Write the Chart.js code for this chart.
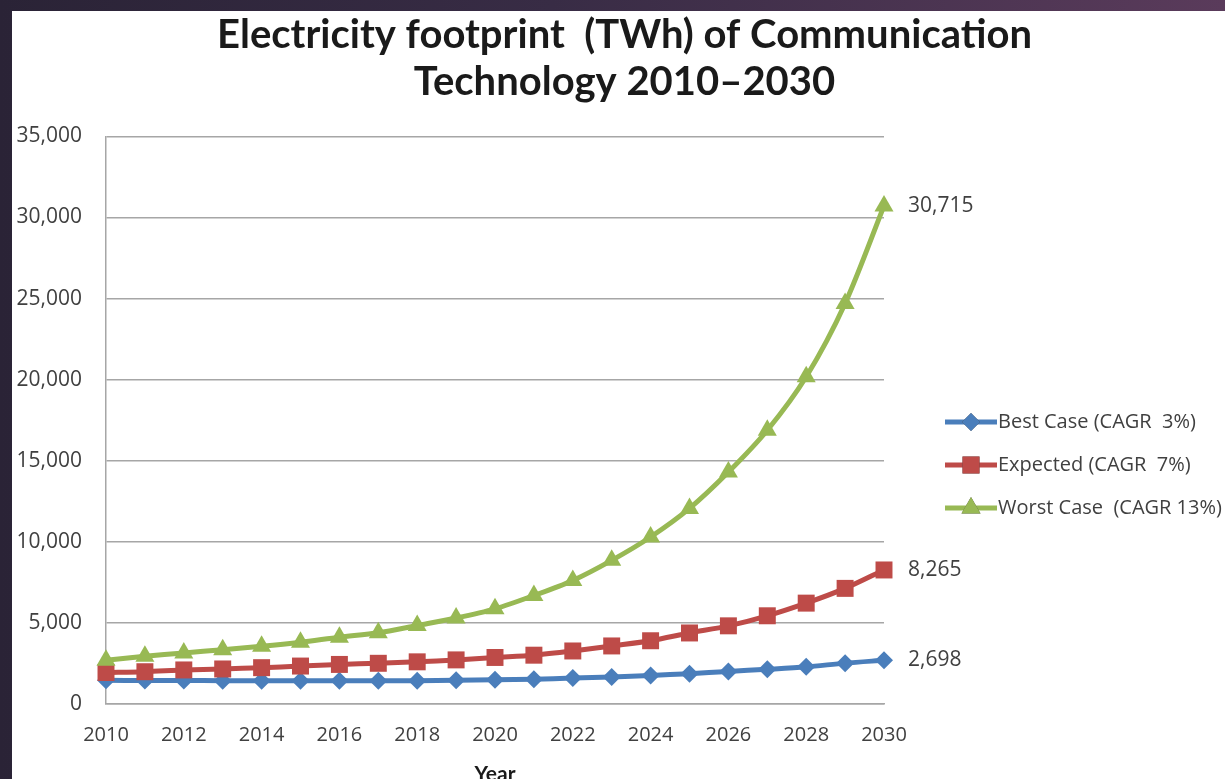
<!DOCTYPE html>
<html>
<head>
<meta charset="utf-8">
<script src="https://cdn.jsdelivr.net/npm/chart.js"></script>
<style>
  html, body { margin: 0; padding: 0; overflow: hidden; }
  body {
    width: 1225px; height: 779px;
    background: linear-gradient(90deg, #2a2336 0%, #382c45 45%, #5a3b5b 100%);
  }
  #wrap {
    position: absolute; left: 12px; top: 11px;
    width: 1225px; height: 790px; background: #fff;
  }
</style>
</head>
<body>
<div id="wrap"><canvas id="myChart"></canvas></div>
<script>
  const years = ["2010", "2011", "2012", "2013", "2014", "2015", "2016", "2017", "2018", "2019", "2020",
    "2021", "2022", "2023", "2024", "2025", "2026", "2027", "2028", "2029", "2030"];

  const bestCase = [1460, 1450, 1450, 1440, 1440, 1440, 1430, 1430, 1440, 1460, 1500,
    1530, 1600, 1670, 1760, 1870, 2010, 2140, 2290, 2520, 2698];
  const expected = [1940, 1990, 2100, 2160, 2240, 2340, 2440, 2510, 2600, 2720, 2870,
    3010, 3270, 3580, 3900, 4380, 4820, 5440, 6220, 7130, 8265];
  const worstCase = [2700, 2950, 3150, 3350, 3560, 3810, 4120, 4390, 4840, 5300, 5870,
    6690, 7620, 8860, 10300, 12060, 14300, 16880, 20180, 24700, 30715];

  const seriesNames = ["Best Case (CAGR  3%)", "Expected (CAGR  7%)", "Worst Case  (CAGR 13%)"];
  const yTicks = [0, 5000, 10000, 15000, 20000, 25000, 30000, 35000];

  const blue = "#4a7ebb";
  const red = "#be4b48";
  const green = "#98b954";
  const textColor = "#404040";
  const gridColor = "#a6a6a6";
  const numFont = "'Open Sans'";

  Chart.defaults.font.family = "Lato, 'Open Sans', sans-serif";

  const fmt = (v) => Number(v).toLocaleString("en-US");

  // end labels + legend (line with marker through it, like Excel)
  const extras = {
    id: "extras",
    afterDraw(chart) {
      const ctx = chart.ctx;
      ctx.save();
      ctx.font = "21px " + numFont;
      ctx.fillStyle = textColor;
      ctx.textBaseline = "middle";
      ctx.textAlign = "left";
      chart.data.datasets.forEach((ds, i) => {
        const meta = chart.getDatasetMeta(i);
        const last = meta.data[meta.data.length - 1];
        ctx.fillText(fmt(ds.data[ds.data.length - 1]), last.x + 24, last.y);
      });

      ctx.font = "20px " + numFont;
      const lx = 933, ly = 411, gap = 43;
      chart.data.datasets.forEach((ds, i) => {
        const y = ly + i * gap;
        ctx.strokeStyle = ds.borderColor;
        ctx.lineWidth = 5;
        ctx.beginPath();
        ctx.moveTo(lx, y);
        ctx.lineTo(lx + 52, y);
        ctx.stroke();
        Chart.helpers.drawPoint(ctx, {
          pointStyle: ds.pointStyle,
          radius: ds.pointRadius,
          borderWidth: 0,
        }, lx + 26, y);
        ctx.fillStyle = ds.backgroundColor;
        ctx.fill();
        ctx.fillStyle = textColor;
        ctx.fillText(ds.label, lx + 53, y);
      });
      ctx.restore();
    },
  };

  new Chart(document.getElementById("myChart"), {
    type: "line",
    data: {
      labels: years,
      datasets: [
        {
          label: seriesNames[0],
          data: bestCase,
          borderColor: blue,
          backgroundColor: blue,
          pointStyle: "rectRot",
          pointRadius: 9,
          order: 3,
        },
        {
          label: seriesNames[1],
          data: expected,
          borderColor: red,
          backgroundColor: red,
          pointStyle: "rect",
          pointRadius: 12,
          order: 2,
        },
        {
          label: seriesNames[2],
          data: worstCase,
          borderColor: green,
          backgroundColor: green,
          pointStyle: "triangle",
          pointRadius: 11,
          order: 1,
        },
      ],
    },
    options: {
      responsive: true,
      maintainAspectRatio: false,
      animation: false,
      datasets: {
        line: {
          borderWidth: 5,
          tension: 0.3,
          pointBorderWidth: 0,
          pointHoverRadius: 12,
          clip: false,
        },
      },
      layout: {
        padding: { left: 0, right: 0, top: 0, bottom: 0 },
      },
      plugins: {
        legend: { display: false },
        tooltip: { enabled: false },
        title: {
          display: true,
          text: ["Electricity footprint  (TWh) of Communication", "Technology 2010\u20132030"],
          color: "#1a1a1a",
          font: { size: 40, weight: "bold", lineHeight: 1.18 },
          padding: { top: 0, bottom: 31 },
        },
      },
      scales: {
        x: {
          type: "category",
          grid: { display: false, drawTicks: false },
          border: { display: true, color: gridColor, width: 1.5 },
          ticks: {
            autoSkip: false,
            maxRotation: 0,
            padding: 19,
            color: textColor,
            font: { family: numFont, size: 20 },
            callback: function (v, i) {
              return i % 2 === 0 ? this.getLabelForValue(v) : "";
            },
          },
          title: {
            display: true,
            text: "Year",
            color: "#1a1a1a",
            font: { size: 21, weight: "bold" },
            padding: { top: 0, bottom: 14 },
          },
          afterFit(scale) {
            scale.height = 97;
          },
        },
        y: {
          min: 0,
          max: 35000,
          grid: { color: gridColor, lineWidth: 1.5, drawTicks: false },
          border: { display: true, color: gridColor, width: 1.5 },
          ticks: {
            stepSize: 5000,
            padding: 24,
            color: textColor,
            font: { family: numFont, size: 21 },
            callback: (v) => (yTicks.includes(v) ? fmt(v) : ""),
          },
          afterFit(scale) {
            scale.width = 94;
          },
        },
        // empty right-hand scale: keeps the space where the legend and end labels sit
        side: {
          position: "right",
          min: 0,
          max: 1,
          grid: { display: false, drawTicks: false },
          border: { display: false },
          ticks: { display: false },
          afterFit(scale) {
            scale.width = 353;
          },
        },
      },
    },
    plugins: [extras],
  });
</script>
</body>
</html>
